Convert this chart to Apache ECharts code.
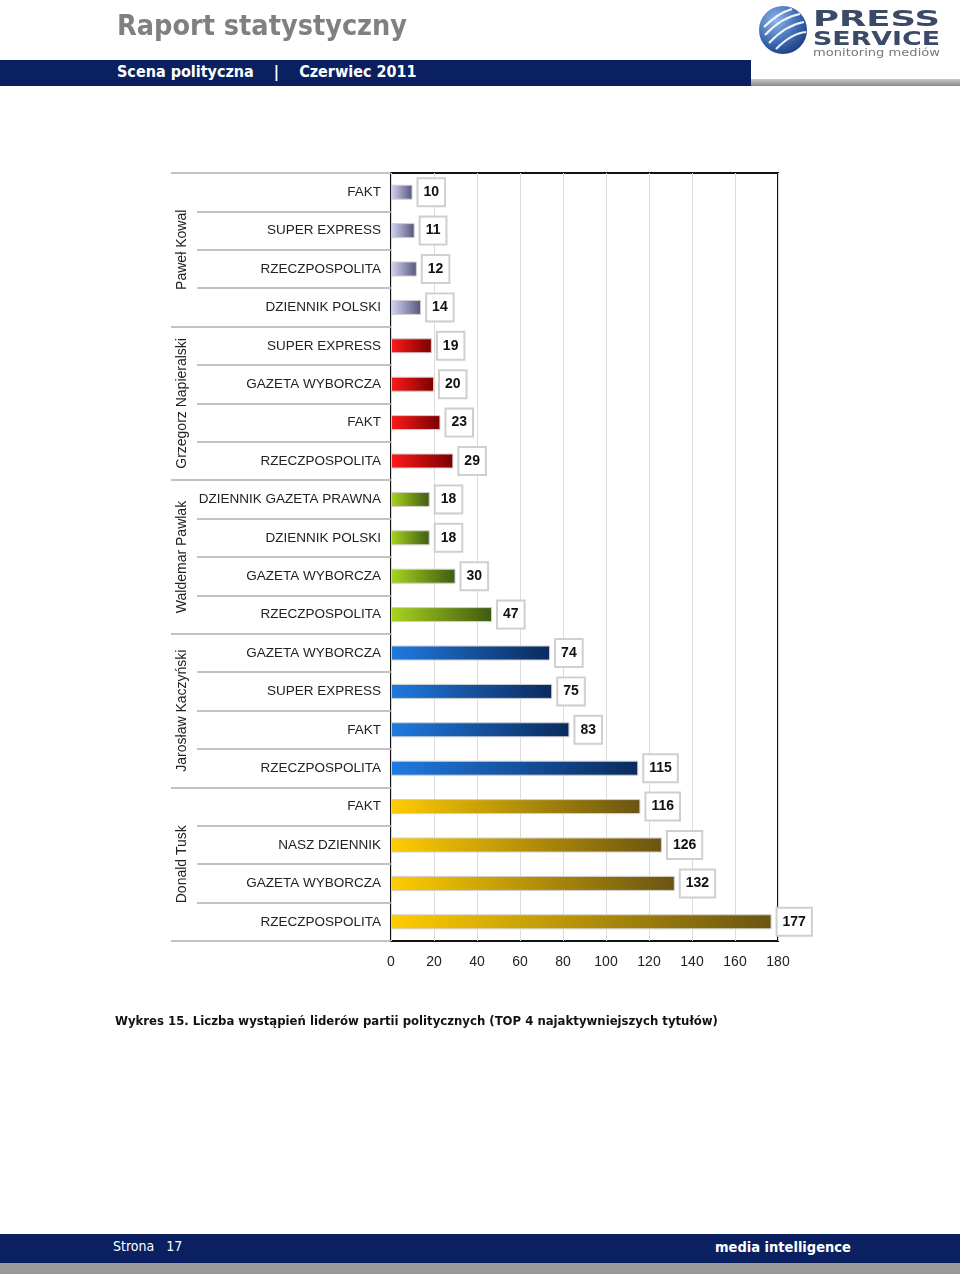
<!DOCTYPE html>
<html>
<head>
<meta charset="utf-8">
<script src="https://cdn.jsdelivr.net/npm/echarts@6/dist/echarts.min.js"></script>
<style>
  body{margin:0;width:960px;height:1274px;position:relative;background:#fff;overflow:hidden;font-family:"Liberation Sans",Arial,sans-serif;}
  #chart{position:absolute;left:0;top:0;width:960px;height:1274px;}
  .abs{position:absolute;}
  #title{left:117px;top:9px;font-size:28.5px;font-weight:bold;color:#808080;font-family:"DejaVu Sans Condensed","DejaVu Sans",sans-serif;}
  #band{left:0;top:60px;width:751px;height:26px;background:#0b2060;}
  #bandGray{left:751px;top:79px;width:209px;height:7px;background:linear-gradient(#c8c8c8,#8a8a8a);}
  #bandText{left:117px;top:62px;font-size:16px;font-weight:bold;color:#fff;font-family:"DejaVu Sans Condensed","DejaVu Sans",sans-serif;white-space:pre;}
  #caption{left:115px;top:1013px;font-size:13px;font-weight:bold;color:#111;font-family:"DejaVu Sans Condensed","DejaVu Sans",sans-serif;}
  #foot{left:0;top:1234px;width:960px;height:29px;background:#0b2060;}
  #footGray{left:0;top:1263px;width:960px;height:11px;background:#9a9a9a;}
  #page{left:113px;top:1238px;font-size:14px;color:#fff;font-family:"DejaVu Sans Condensed","DejaVu Sans",sans-serif;white-space:pre;}
  #mi{left:715px;top:1239px;font-size:14.5px;font-weight:bold;color:#fff;font-family:"DejaVu Sans Condensed","DejaVu Sans",sans-serif;}
  #logo{left:758px;top:5px;width:200px;height:55px;}
</style>
</head>
<body>
<div id="chart"></div>
<div id="title" class="abs">Raport statystyczny</div>
<div id="band" class="abs"></div>
<div id="bandGray" class="abs"></div>
<div id="bandText" class="abs">Scena polityczna    |    Czerwiec 2011</div>
<svg id="logo" class="abs" viewBox="0 0 200 55">
  <defs>
    <radialGradient id="lg" cx="35%" cy="30%" r="75%">
      <stop offset="0" stop-color="#8fb4e6"/>
      <stop offset="0.6" stop-color="#3f6db5"/>
      <stop offset="1" stop-color="#1d3f80"/>
    </radialGradient>
  </defs>
  <circle cx="25" cy="25" r="24" fill="url(#lg)"/>
  <path d="M6 22 Q20 8 34 4 M7 30 Q24 12 42 9 M11 38 Q28 20 46 17 M18 44 Q34 28 48 27" stroke="#fff" stroke-width="2.2" fill="none" opacity="0.9"/>
  <text x="55" y="21" font-family="DejaVu Sans" font-weight="bold" font-size="21" fill="#3b4a68" textLength="127" lengthAdjust="spacingAndGlyphs">PRESS</text>
  <text x="55" y="40" font-family="DejaVu Sans" font-weight="bold" font-size="20" fill="#3b4a68" textLength="127" lengthAdjust="spacingAndGlyphs">SERVICE</text>
  <text x="55" y="51" font-family="DejaVu Sans" font-size="10" fill="#777" textLength="127" lengthAdjust="spacingAndGlyphs">monitoring mediów</text>
</svg>
<div id="caption" class="abs">Wykres 15. Liczba wystąpień liderów partii politycznych (TOP 4 najaktywniejszych tytułów)</div>
<div id="foot" class="abs"></div>
<div id="footGray" class="abs"></div>
<div id="page" class="abs">Strona   17</div>
<div id="mi" class="abs">media intelligence</div>
<script>
// leaders (4 titles each, top to bottom)
const leaders = ['Paweł Kowal', 'Grzegorz Napieralski', 'Waldemar Pawlak', 'Jarosław Kaczyński', 'Donald Tusk'];
const outlets = [
  'FAKT', 'SUPER EXPRESS', 'RZECZPOSPOLITA', 'DZIENNIK POLSKI',
  'SUPER EXPRESS', 'GAZETA WYBORCZA', 'FAKT', 'RZECZPOSPOLITA',
  'DZIENNIK GAZETA PRAWNA', 'DZIENNIK POLSKI', 'GAZETA WYBORCZA', 'RZECZPOSPOLITA',
  'GAZETA WYBORCZA', 'SUPER EXPRESS', 'FAKT', 'RZECZPOSPOLITA',
  'FAKT', 'NASZ DZIENNIK', 'GAZETA WYBORCZA', 'RZECZPOSPOLITA'
];
const counts = [10, 11, 12, 14, 19, 20, 23, 29, 18, 18, 30, 47, 74, 75, 83, 115, 116, 126, 132, 177];
const xTicks = [0, 180, 20];
// gradient start / end per leader
const lightColors = ['#d4d4f4', '#ff1a1a', '#a8d420', '#1f7ae0', '#ffcc00'];
const darkColors = ['#55557a', '#7a0000', '#3f5a10', '#0b2a5c', '#6a5412'];

const perLeader = outlets.length / leaders.length;

const data = counts.map((v, i) => {
  const g = Math.floor(i / perLeader);
  return {
    value: v,
    itemStyle: {
      color: new echarts.graphic.LinearGradient(0, 0, 1, 0, [
        {offset: 0, color: lightColors[g]},
        {offset: 1, color: darkColors[g]}
      ])
    }
  };
});

const chart = echarts.init(document.getElementById('chart'));
chart.setOption({
  animation: false,
  grid: {left: 391, right: 182, top: 173, bottom: 333, show: true, borderColor: '#111', borderWidth: 2, containLabel: false},
  xAxis: {
    type: 'value', min: xTicks[0], max: xTicks[1], interval: xTicks[2],
    axisLine: {show: false}, axisTick: {show: false},
    axisLabel: {color: '#222', fontSize: 14, fontFamily: 'Liberation Sans, Arial', margin: 14},
    splitLine: {lineStyle: {color: '#dcdcdc', width: 1}}
  },
  yAxis: [{
    type: 'category', inverse: true, data: outlets, position: 'left',
    axisLine: {show: false},
    axisTick: {show: true, length: 194, lineStyle: {color: '#b0b0b0', width: 1.5}},
    axisLabel: {interval: 0, color: '#222', fontSize: 13.5, fontFamily: 'Liberation Sans, Arial', margin: 10}
  }, {
    type: 'category', inverse: true, data: leaders, position: 'left', offset: 220,
    axisLine: {show: false},
    axisTick: {show: true, inside: true, length: 220, lineStyle: {color: '#b0b0b0', width: 1.5}},
    axisLabel: {inside: true, interval: 0, hideOverlap: false, rotate: 90, color: '#222', fontSize: 14, fontFamily: 'Liberation Sans, Arial', margin: 4}
  }],
  series: [{
    type: 'bar', yAxisIndex: 0, data: data, barWidth: 15,
    itemStyle: {borderColor: '#d0d0d0', borderWidth: 1},
    label: {
      show: true, position: 'right', distance: 6,
      color: '#111', fontWeight: 'bold', fontSize: 14, fontFamily: 'Liberation Sans, Arial',
      backgroundColor: '#fff', borderColor: '#cfcfcf', borderWidth: 2,
      padding: [6, 5, 6, 5]
    }
  }]
});
</script>
</body>
</html>
